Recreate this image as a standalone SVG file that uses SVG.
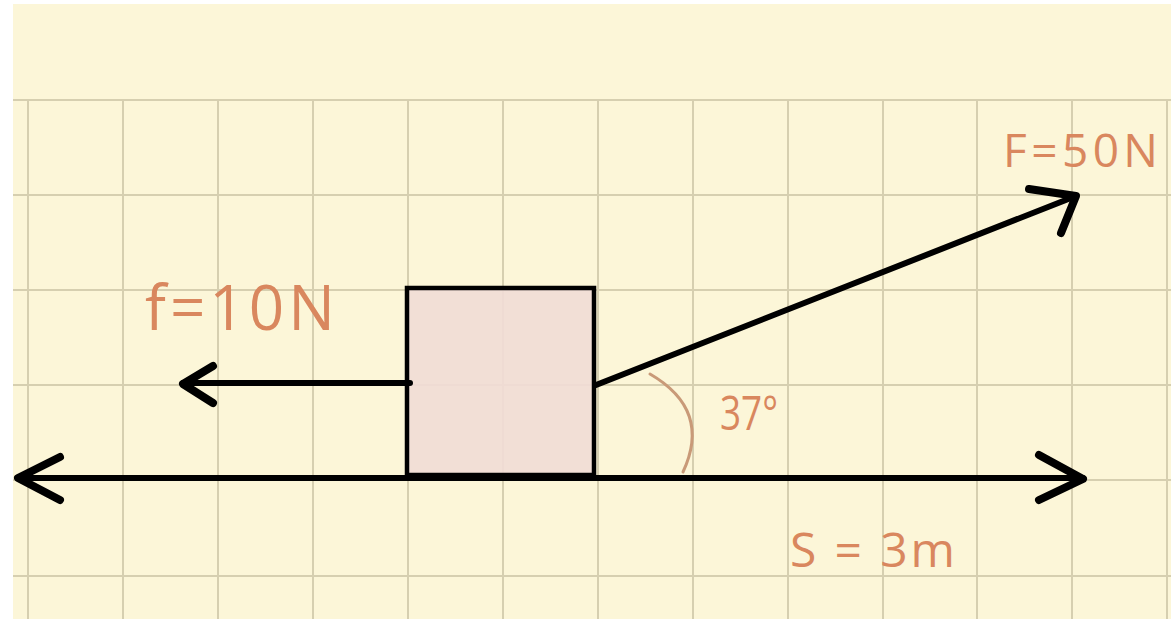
<svg xmlns="http://www.w3.org/2000/svg" width="1171" height="619" viewBox="0 0 1171 619">
  <defs>
    <style>
      .grid line { stroke: #d6cfb0; stroke-width: 2; }
      .vec { stroke: #000; stroke-width: 6; fill: none; stroke-linecap: round; stroke-linejoin: round; }
      .head { stroke: #000; stroke-width: 8; fill: none; stroke-linecap: round; stroke-linejoin: round; }
      .lbl { fill: #d9875e; font-family: "Open Sans", "Liberation Sans", sans-serif; font-weight: 400; }
    </style>
  </defs>
  <rect width="1171" height="619" fill="#ffffff"/>
  <rect x="13" y="4" width="1158" height="615" fill="#fcf6d8"/>
  <g class="grid" id="grid">
    <line x1="13" y1="100" x2="1171" y2="100"/>
    <line x1="13" y1="195" x2="1171" y2="195"/>
    <line x1="13" y1="290" x2="1171" y2="290"/>
    <line x1="13" y1="385" x2="1171" y2="385"/>
    <line x1="13" y1="480" x2="1171" y2="480"/>
    <line x1="13" y1="576" x2="1171" y2="576"/>
    <line x1="28" y1="100" x2="28" y2="619"/>
    <line x1="123" y1="100" x2="123" y2="619"/>
    <line x1="218" y1="100" x2="218" y2="619"/>
    <line x1="313" y1="100" x2="313" y2="619"/>
    <line x1="408" y1="100" x2="408" y2="619"/>
    <line x1="503" y1="100" x2="503" y2="619"/>
    <line x1="598" y1="100" x2="598" y2="619"/>
    <line x1="693" y1="100" x2="693" y2="619"/>
    <line x1="788" y1="100" x2="788" y2="619"/>
    <line x1="883" y1="100" x2="883" y2="619"/>
    <line x1="977" y1="100" x2="977" y2="619"/>
    <line x1="1072" y1="100" x2="1072" y2="619"/>
    <line x1="1167" y1="100" x2="1167" y2="619"/>
  </g>
  <g id="block">
    <rect x="407" y="288" width="187" height="187" fill="#f1dcd6" fill-opacity="0.92" stroke="#000" stroke-width="4.5"/>
  </g>
  <g id="connectors">
    <line class="vec" x1="18" y1="478" x2="1083" y2="478"/>
    <polyline class="head" points="60,457 18,478 60,500"/>
    <polyline class="head" points="1039,455 1083,479 1039,500"/>
    <line class="vec" x1="410" y1="383" x2="183" y2="383"/>
    <polyline class="head" points="213,366 183,384 213,403"/>
    <line class="vec" x1="596" y1="385" x2="1076" y2="196"/>
    <polyline class="head" points="1029,189 1076,196 1061,233"/>
    <path d="M650,374 Q712,410 683,472" fill="none" stroke="#c99a78" stroke-width="3" stroke-linecap="round"/>
  </g>
  <g id="labels">
    <text class="lbl" x="145" y="330" font-size="62" textLength="190" lengthAdjust="spacing">f=10N</text>
    <text class="lbl" x="1003" y="167" font-size="46" textLength="155" lengthAdjust="spacing">F=50N</text>
    <text class="lbl" x="720" y="430" font-size="48" font-weight="600" textLength="58" lengthAdjust="spacingAndGlyphs">37°</text>
    <text class="lbl" x="790" y="567" font-size="48" textLength="165" lengthAdjust="spacing">S = 3m</text>
  </g>
</svg>
